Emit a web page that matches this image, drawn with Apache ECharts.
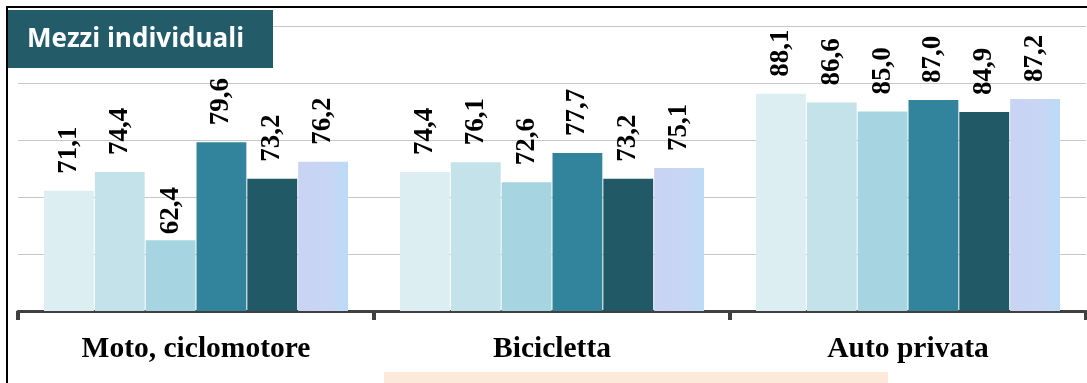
<!DOCTYPE html>
<html>
<head>
<meta charset="utf-8">
<script src="https://cdn.jsdelivr.net/npm/echarts@6/dist/echarts.min.js"></script>
<style>
  html, body { margin: 0; padding: 0; background: #ffffff; }
  #chart { width: 1087px; height: 383px; }
</style>
</head>
<body>
<div id="chart"></div>
<script>
// Categories and values (percent), one array per series
const categories = ['Moto, ciclomotore', 'Bicicletta', 'Auto privata'];
const serie1 = [71.1, 74.4, 88.1];
const serie2 = [74.4, 76.1, 86.6];
const serie3 = [62.4, 72.6, 85.0];
const serie4 = [79.6, 77.7, 87.0];
const serie5 = [73.2, 73.2, 84.9];
const serie6 = [76.2, 75.1, 87.2];
const titleText = 'Mezzi individuali';

const seriesValues = [serie1, serie2, serie3, serie4, serie5, serie6];

// Fill of the last series: soft lavender wash turning sky blue towards the right edge
const washFill = new echarts.graphic.LinearGradient(0, 0, 1, 0, [
  { offset: 0, color: '#C9D3F3' },
  { offset: 0.6, color: '#C8D5F4' },
  { offset: 1, color: '#BBDBF7' }
]);
const colors = ['#DDEEF3', '#C3E2EA', '#A6D5E1', '#31849B', '#215967', washFill];

const chart = echarts.init(document.getElementById('chart'), null, { renderer: 'canvas' });

const fmt = p => p.value.toFixed(1).replace('.', ',');

const labelStyle = {
  show: true,
  position: 'top',
  rotate: 90,
  align: 'left',
  verticalAlign: 'middle',
  distance: 17,
  formatter: fmt,
  fontFamily: '"Liberation Serif", serif',
  fontWeight: 'bold',
  fontSize: 27,
  color: '#000000'
};

// the short third bar of the first group keeps its label tucked closer
const series = seriesValues.map((vals, i) => ({
  type: 'bar',
  name: 'S' + (i + 1),
  data: vals.map((v, j) => (i === 2 && j === 0) ? { value: v, label: { distance: 6 } } : v),
  barGap: '2%',
  barCategoryGap: '14.6%',
  itemStyle: { color: colors[i] },
  label: labelStyle
}));

chart.setOption({
  animation: false,
  grid: { left: 18, right: 1, top: 26, bottom: 72 },
  xAxis: {
    type: 'category',
    data: categories,
    axisLine: { lineStyle: { color: '#404040', width: 3 } },
    axisTick: { show: true, length: 9, lineStyle: { color: '#404040', width: 4 } },
    axisLabel: {
      margin: 23,
      fontFamily: '"Liberation Serif", serif',
      fontWeight: 'bold',
      fontSize: 29.5,
      color: '#000000'
    }
  },
  yAxis: {
    type: 'value',
    min: 50,
    max: 100,
    interval: 10,
    axisLine: { show: false },
    axisTick: { show: false },
    axisLabel: { show: false },
    splitLine: { lineStyle: { color: '#C8C8C8', width: 1 } }
  },
  series: series,
  graphic: [
    // frame lines on top and left
    {
      type: 'polyline',
      shape: { points: [[7, 383], [7, 7], [1087, 7]] },
      style: { stroke: '#000000', lineWidth: 2, fill: null },
      z: 100
    },
    // title badge
    {
      type: 'rect',
      shape: { x: 8, y: 10, width: 265, height: 58 },
      style: { fill: '#235B69' },
      z: 100
    },
    {
      type: 'text',
      x: 27,
      y: 40,
      style: {
        text: titleText,
        fill: '#ffffff',
        font: 'bold 26px "Open Sans", sans-serif',
        verticalAlign: 'middle'
      },
      z: 101
    },
    // pale band along the bottom edge
    {
      type: 'rect',
      shape: { x: 384, y: 372, width: 504, height: 11 },
      style: { fill: '#FDE9D9' },
      z: 100
    }
  ]
});
</script>
</body>
</html>
